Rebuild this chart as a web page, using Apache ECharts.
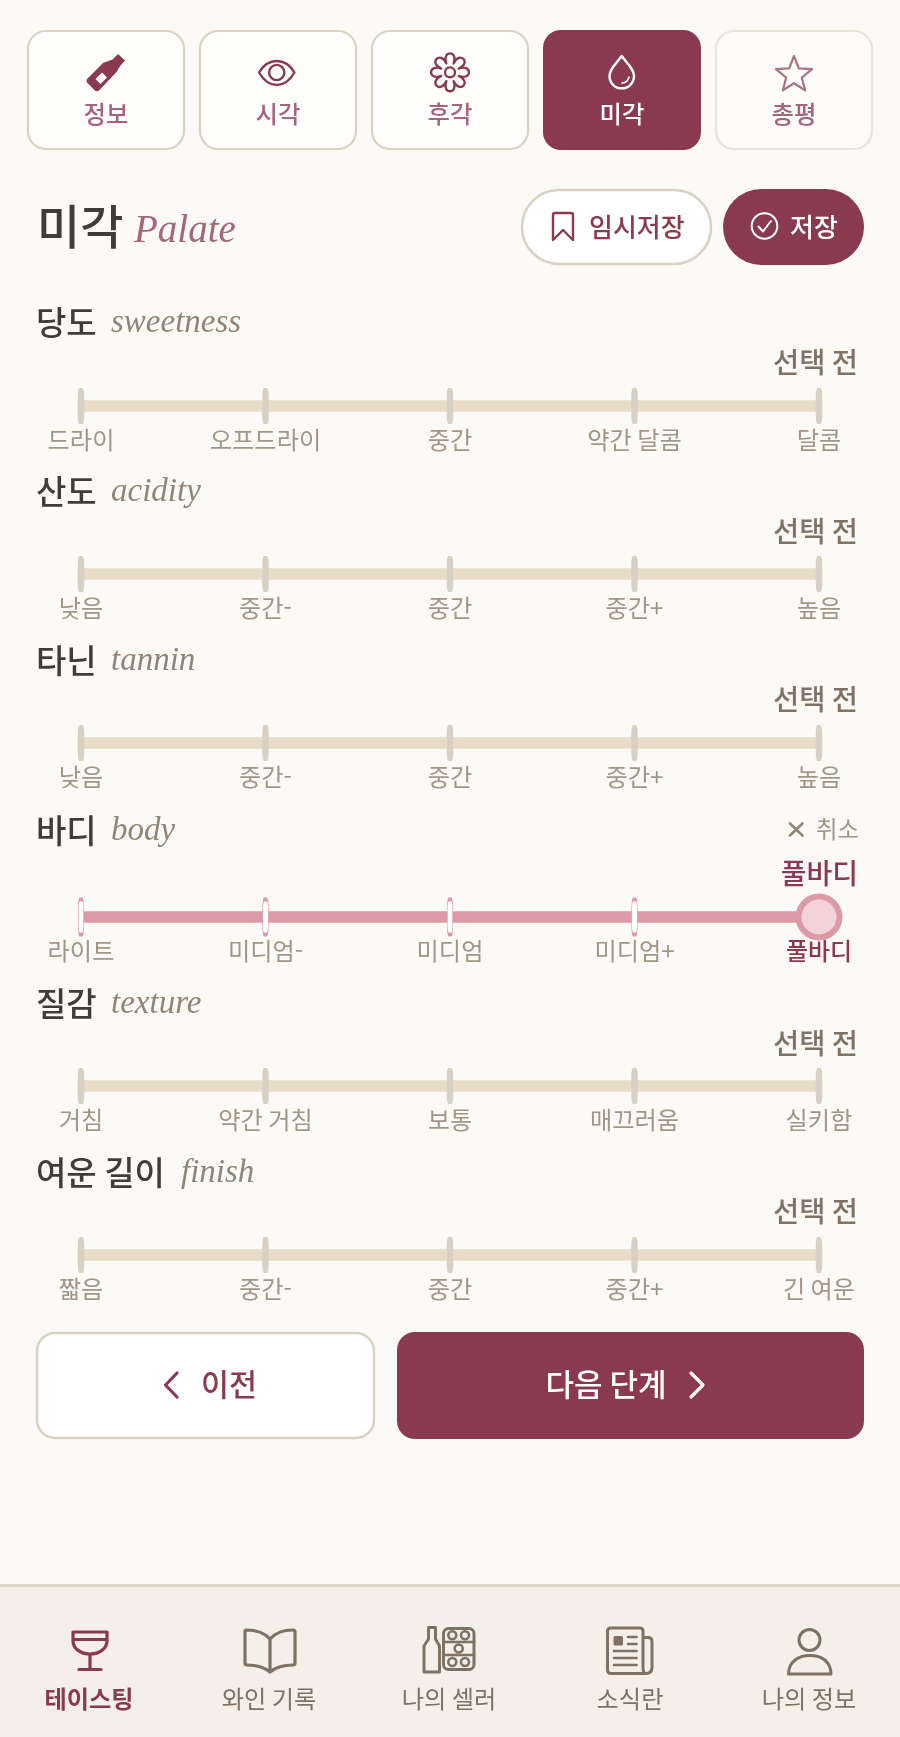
<!DOCTYPE html>
<html lang="ko">
<head>
<meta charset="utf-8">
<title>미각 Palate</title>
<script src="https://cdn.jsdelivr.net/npm/echarts@6/dist/echarts.min.js"></script>
<style>
html, body { margin: 0; padding: 0; background: #fcfaf6; }
#main { width: 900px; height: 1737px; }
</style>
</head>
<body>
<div id="main"></div>
<script>
// 척도 데이터
var scaleNames = ['당도', '산도', '타닌', '바디', '질감', '여운 길이'];
var scaleLatin = ['sweetness', 'acidity', 'tannin', 'body', 'texture', 'finish'];
var sweetLabels = ['드라이', '오프드라이', '중간', '약간 달콤', '달콤'];
var acidLabels = ['낮음', '중간-', '중간', '중간+', '높음'];
var tanninLabels = ['낮음', '중간-', '중간', '중간+', '높음'];
var bodyLabels = ['라이트', '미디엄-', '미디엄', '미디엄+', '풀바디'];
var textureLabels = ['거침', '약간 거침', '보통', '매끄러움', '실키함'];
var finishLabels = ['짧음', '중간-', '중간', '중간+', '긴 여운'];
var scaleLabels = [sweetLabels, acidLabels, tanninLabels, bodyLabels, textureLabels, finishLabels];
var selectedIndex = [null, null, null, 4, null, null];
var emptyText = '선택 전';
var tabNames = ['정보', '시각', '후각', '미각', '총평'];
var navNames = ['테이스팅', '와인 기록', '나의 셀러', '소식란', '나의 정보'];

var WINE = '#8a3a4e', ROSE = '#a5657b', BORDER = '#d9d2c3', BROWN = '#7d7263';
var GREY = '#a09686', INK = '#3f3d38', PINK = '#dc99a6', SAND = '#e8dcc8', TICK = '#d8d0c2';
var KR = '"Noto Sans CJK KR", "Noto Sans", sans-serif';
var SERIF = '"Liberation Serif", serif';

var trackY = [406, 574, 743, 917, 1086, 1255];
var nameY = [322, 491, 660, 830, 1003, 1172];
var readY = [362, 531, 699, 873, 1043, 1211];

var graphics = [];
var iconCount = 0;

function txt(text, x, y, size, color, weight, align, family, style) {
    graphics.push({
        type: 'text', silent: true, z: 20,
        style: {
            text: text, x: x, y: y, fill: color,
            fontSize: size, fontWeight: weight || 400, fontStyle: style || 'normal',
            fontFamily: family || KR,
            textAlign: align || 'left', textVerticalAlign: 'middle'
        }
    });
}
function box(x0, y0, x1, y1, r, fill, stroke, lw, opacity) {
    graphics.push({
        type: 'rect', silent: true, z: 10,
        shape: { x: x0, y: y0, width: x1 - x0, height: y1 - y0, r: r },
        style: { fill: fill, stroke: stroke || null, lineWidth: lw || 0, opacity: opacity == null ? 1 : opacity }
    });
}
// graphic 컴포넌트에는 path 타입이 없어서 등록해서 쓴다
function icon(d, stroke, lw, fill) {
    var name = 'icon' + (iconCount++);
    echarts.graphic.registerShape(name, echarts.graphic.extendPath(d, {}));
    graphics.push({
        type: name, silent: true, z: 15,
        style: { fill: fill || 'none', stroke: stroke || null, lineWidth: lw || 0, lineCap: 'round', lineJoin: 'round' }
    });
}
function ring(cx, cy, r, stroke, lw, fill) {
    graphics.push({
        type: 'circle', silent: true, z: 15,
        shape: { cx: cx, cy: cy, r: r },
        style: { fill: fill || 'none', stroke: stroke, lineWidth: lw }
    });
}

// 상단 탭
var tabEdges = [[28, 184], [200, 356], [372, 528], [543, 701], [716, 872]];
tabNames.forEach(function (name, i) {
    var e = tabEdges[i], cx = (e[0] + e[1]) / 2;
    if (i === 3) {
        box(e[0], 30, e[1], 150, 18, WINE);
    } else {
        box(e[0], 31, e[1], 149, 18, '#fffefc', BORDER, 2.2, i === 4 ? 0.55 : 1);
    }
    txt(name, cx, 114, 24.4, i === 3 ? '#ffffff' : ROSE, 500, 'center');
});
// 병
icon('M118,54 L125,60.5 L120.5,65.5 L116.5,72 L99,90.5 Q97,92 95,90.5 L87.5,83 Q85.5,81 87.5,78.5 L103,63 L112.5,59.5 Z', null, 0, WINE);
icon('M102,72.5 L107,77.5 L100.5,84 L95.5,79 Z', null, 0, '#fffefc');
// 눈
icon('M259,72.5 C264,64 270,61 276.7,61 C283,61 289.5,64 294.5,72.5 C289.5,81 283,85 276.7,85 C270,85 264,81 259,72.5 Z', WINE, 2.4);
ring(276.7, 72.5, 7.6, WINE, 2.4);
// 꽃
(function () {
    var cx = 450, cy = 72.3, d = '', n = 8;
    for (var i = 0; i < n; i++) {
        var a0 = (i - 0.5) * 2 * Math.PI / n - Math.PI / 2, a1 = (i + 0.5) * 2 * Math.PI / n - Math.PI / 2;
        var am0 = a0 + 0.02, am1 = a1 - 0.02;
        if (i === 0) d += 'M' + (cx + 9.5 * Math.cos(a0)) + ',' + (cy + 9.5 * Math.sin(a0));
        d += ' C' + (cx + 24 * Math.cos(am0)) + ',' + (cy + 24 * Math.sin(am0)) + ' ' +
            (cx + 24 * Math.cos(am1)) + ',' + (cy + 24 * Math.sin(am1)) + ' ' +
            (cx + 9.5 * Math.cos(a1)) + ',' + (cy + 9.5 * Math.sin(a1));
    }
    icon(d + ' Z', WINE, 2.3);
    ring(cx, cy, 5, WINE, 2.3);
})();
// 물방울
icon('M621.7,56 C616,64 609.5,69 609.5,76 C609.5,83 615,88.3 621.7,88.3 C628.5,88.3 634,83 634,76 C634,69 627.5,64 621.7,56 Z', '#ffffff', 2.4);
icon('M622,83 C625.5,83 628,81 629,77', '#ffffff', 1.6);
// 별
(function () {
    var cx = 794, cy = 75, d = '';
    for (var i = 0; i < 10; i++) {
        var r = i % 2 ? 8.2 : 19, a = i * Math.PI / 5 - Math.PI / 2;
        d += (i ? ' L' : 'M') + (cx + r * Math.cos(a)) + ',' + (cy + r * Math.sin(a));
    }
    icon(d + ' Z', '#a97487', 2.2);
})();

// 제목 줄
txt('미각', 37, 226, 47, INK, 500);
txt('Palate', 134, 232, 39, '#a5657b', 400, 'left', SERIF, 'italic');
box(522, 190, 711, 264, 37, '#ffffff', BORDER, 2.5);
icon('M553,215 Q553,213 555,213 L571,213 Q573,213 573,215 L573,240 L563,230 L553,240 Z', WINE, 2.4);
txt('임시저장', 589, 227, 26, WINE, 500);
box(723, 189, 864, 265, 38, WINE);
ring(764.5, 226, 12.8, '#ffffff', 2);
icon('M758.5,226.5 L763,231.5 L771,221', '#ffffff', 2);
txt('저장', 790, 227, 26, '#ffffff', 500);

// 척도 제목과 선택값
scaleNames.forEach(function (name, i) {
    txt(name, 36, nameY[i], 33, INK, 500);
    var nameW = name.length === 2 ? 75 : 145;
    txt(scaleLatin[i], 36 + nameW, nameY[i] + 1, 33, '#8f8577', 400, 'left', SERIF, 'italic');
    var sel = selectedIndex[i];
    if (sel === null) {
        txt(emptyText, 858, readY[i], 28.5, BROWN, 500, 'right');
    } else {
        txt(scaleLabels[i][sel], 858, readY[i], 28, WINE, 500, 'right');
        icon('M790,823.5 L802.5,835.5 M802.5,823.5 L790,835.5', '#8f8577', 2.6);
        txt('취소', 859, 829, 23.4, GREY, 400, 'right');
    }
});

// 하단 버튼
box(37, 1333, 374, 1438, 18, '#ffffff', BORDER, 2.5);
icon('M177,1373 L165.5,1385 L177,1397', WINE, 3.2);
txt('이전', 229, 1384, 30.5, WINE, 500, 'center');
box(397, 1332, 864, 1439, 18, WINE);
txt('다음 단계', 606, 1384, 31, '#ffffff', 500, 'center');
icon('M691,1373 L703,1385 L691,1397', '#ffffff', 3.2);

// 하단 내비게이션
box(0, 1586, 900, 1737, 0, '#f4efe8');
box(0, 1584, 900, 1587, 0, '#ddd5c6');
var navX = [89, 269, 449, 630, 809];
navNames.forEach(function (name, i) {
    txt(name, navX[i], 1699, 24.2, i === 0 ? WINE : BROWN, i === 0 ? 700 : 400, 'center');
});
// 와인잔
icon('M73,1632 L107,1632 L107,1641 C107,1648 100,1654 90,1654 C80,1654 73,1648 73,1641 Z M73,1639.5 L107,1639.5 M90,1654 L90,1669 M79,1669.5 L101,1669.5', WINE, 3.2);
// 책
icon('M270,1639 C264,1632 255,1630 246,1630 Q245,1630 245,1632 L245,1663 Q245,1665 247,1665 C256,1665 264,1667 270,1672 C276,1667 284,1665 293,1665 Q295,1665 295,1663 L295,1632 Q295,1630 293,1630 C284,1630 276,1632 270,1639 Z M270,1639 L270,1672', BROWN, 3.2);
// 셀러
icon('M428.5,1627.5 L435.5,1627.5 L435.5,1639 L439.5,1646 L439.5,1672 L424,1672 L424,1646 L428.5,1639 Z', BROWN, 3);
box(443.5, 1628.5, 474, 1669.5, 5, 'none', BROWN, 3);
graphics[graphics.length - 1].z = 15;
icon('M443.5,1642 L474,1642 M443.5,1655 L474,1655', BROWN, 2.6);
[[452.3, 1635.3], [465, 1635.3], [458.7, 1648.5], [452.3, 1662], [465, 1662]].forEach(function (p) {
    ring(p[0], p[1], 4, BROWN, 2.6);
});
// 신문
icon('M643,1637.5 L648,1637.5 Q652,1637.5 652,1641.5 L652,1667 Q652,1673.5 646,1673.5 L611,1673.5 Q607.5,1673.5 607.5,1670 L607.5,1631 Q607.5,1628 611,1628 L640,1628 Q643,1628 643,1631 L643,1667 Q643,1673.5 646,1673.5', BROWN, 3);
box(613.5, 1636, 623, 1645.5, 1.5, BROWN);
graphics[graphics.length - 1].z = 15;
icon('M628,1637 L636.5,1637 M628,1644 L636.5,1644 M614,1651 L636.5,1651 M614,1658 L636.5,1658 M614,1665 L636.5,1665', BROWN, 2.6);
// 사람
ring(809.5, 1640, 10.5, BROWN, 3);
icon('M788.5,1674 L831,1674 C831,1662 822,1655.5 810,1655.5 C798,1655.5 788.5,1662 788.5,1674 Z', BROWN, 3);

// 슬라이더: 척도마다 grid 하나
var grids = [], xAxes = [], yAxes = [], series = [];
scaleLabels.forEach(function (labels, i) {
    var sel = selectedIndex[i], active = sel !== null;
    grids.push({ left: 81, width: 738, top: trackY[i] - 10, height: 20 });
    xAxes.push({
        type: 'category', gridIndex: i, data: labels, boundaryGap: false,
        axisLine: { show: false, onZero: false }, axisTick: { show: false }, splitLine: { show: false },
        axisLabel: {
            interval: 0, hideOverlap: false, margin: 12,
            fontFamily: KR, fontSize: 24.2, color: GREY,
            formatter: function (v, idx) { return idx === sel ? '{on|' + v + '}' : v; },
            rich: { on: { fontFamily: KR, fontSize: 24, fontWeight: 500, color: WINE } }
        }
    });
    yAxes.push({ type: 'value', gridIndex: i, min: -1, max: 1, show: false });
    var level = labels.map(function () { return 0; });
    series.push({
        type: 'line', xAxisIndex: i, yAxisIndex: i, data: level, z: 2, silent: true,
        symbol: 'none', lineStyle: { width: 11.5, color: active ? PINK : SAND, cap: 'butt' }
    });
    series.push({
        type: 'scatter', xAxisIndex: i, yAxisIndex: i, data: level, z: 3, silent: true, clip: false,
        symbol: 'roundRect', symbolSize: active ? [5.5, 35] : [6.5, 36],
        itemStyle: active ? { color: '#ffffff', borderColor: PINK, borderWidth: 1.5, opacity: 1 } : { color: TICK, opacity: 1 }
    });
    if (active) {
        series.push({
            type: 'scatter', xAxisIndex: i, yAxisIndex: i, z: 4, silent: true, clip: false,
            data: [[sel, level[sel]]], symbol: 'circle', symbolSize: 41,
            itemStyle: { color: '#f3d3d9', borderColor: PINK, borderWidth: 6, opacity: 1 }
        });
    }
});

var chart = echarts.init(document.getElementById('main'));
chart.setOption({
    animation: false,
    backgroundColor: '#fcfaf6',
    tooltip: { show: false },
    grid: grids,
    xAxis: xAxes,
    yAxis: yAxes,
    series: series,
    graphic: { elements: graphics }
});
</script>
</body>
</html>
